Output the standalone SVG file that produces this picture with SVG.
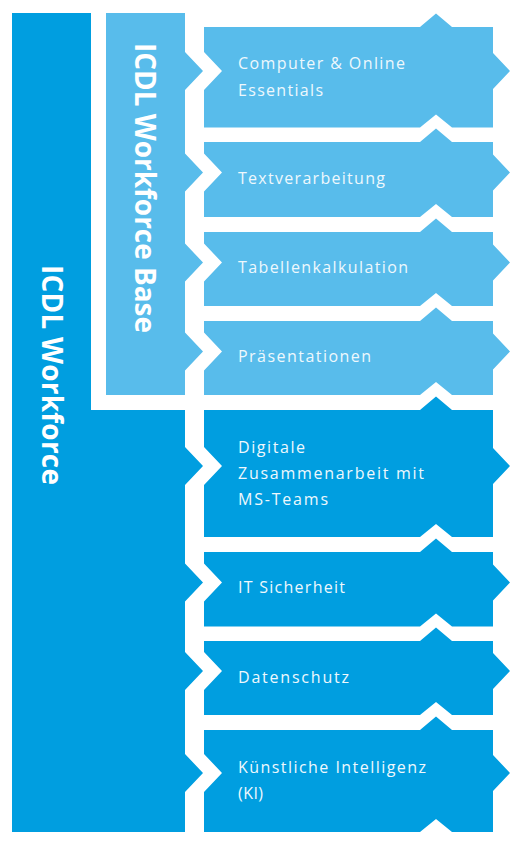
<svg xmlns="http://www.w3.org/2000/svg" width="517" height="845" viewBox="0 0 517 845">
  <style>
    .light { fill: #58bceb; }
    .dark { fill: #009ee0; }
    .lbl { font-family: "Open Sans", "Liberation Sans", sans-serif; font-size: 16px; fill: #eef8fd; }
    .title { font-family: "Open Sans", "Liberation Sans", sans-serif; font-size: 28px; font-weight: bold; fill: #ffffff; }
  </style>
  <rect width="517" height="845" fill="#ffffff"/>
  <g id="workforce">
    <path class="dark" d="M12,13 H91 V410 H185 V447 L203,466 L185,485 V563.5 L203,582.5 L185,601.5 V652 L203,671 L185,690 V754 L203,773 L185,792 V832 H12 Z"/>
    <text class="title" transform="translate(41.5,265) rotate(90)" textLength="220" lengthAdjust="spacing">ICDL Workforce</text>
  </g>
  <g id="workforce-base">
    <path class="light" d="M106,13 H185 V52 L203,71 L185,90 V153.5 L203,172.5 L185,191.5 V243.5 L203,262.5 L185,281.5 V332.5 L203,351.5 L185,370.5 V395 H106 Z"/>
    <text class="title" transform="translate(135,43) rotate(90)" textLength="290" lengthAdjust="spacing">ICDL Workforce Base</text>
  </g>
  <g id="connectors"/>
  <g id="m1">
    <path class="light" d="M204,27 H420 L436,13.5 L452,27 H493 V53 L510,71 L493,89 V127.5 H452 L436,114.5 L420,127.5 H204 V90 L222,71 L204,52 Z"/>
    <text class="lbl" x="238" y="68.5" textLength="167" lengthAdjust="spacing">Computer &amp; Online</text>
    <text class="lbl" x="238" y="95.5" textLength="85" lengthAdjust="spacing">Essentials</text>
  </g>
  <g id="m2">
    <path class="light" d="M204,142 H420 L436,128.5 L452,142 H493 V154.5 L510,172.5 L493,190.5 V217 H452 L436,204 L420,217 H204 V191.5 L222,172.5 L204,153.5 Z"/>
    <text class="lbl" x="238" y="183.5" textLength="147" lengthAdjust="spacing">Textverarbeitung</text>
  </g>
  <g id="m3">
    <path class="light" d="M204,232 H420 L436,218.5 L452,232 H493 V244.5 L510,262.5 L493,280.5 V306 H452 L436,293 L420,306 H204 V281.5 L222,262.5 L204,243.5 Z"/>
    <text class="lbl" x="238" y="273" textLength="170" lengthAdjust="spacing">Tabellenkalkulation</text>
  </g>
  <g id="m4">
    <path class="light" d="M204,321 H420 L436,307.5 L452,321 H493 V333.5 L510,351.5 L493,369.5 V395 H452 L436,382 L420,395 H204 V370.5 L222,351.5 L204,332.5 Z"/>
    <text class="lbl" x="238" y="362" textLength="133" lengthAdjust="spacing">Präsentationen</text>
  </g>
  <g id="m5">
    <path class="dark" d="M204,410 H420 L436,396.5 L452,410 H493 V448 L510,466 L493,484 V537 H452 L436,524 L420,537 H204 V485 L222,466 L204,447 Z"/>
    <text class="lbl" x="238" y="452.5" textLength="67" lengthAdjust="spacing">Digitale</text>
    <text class="lbl" x="238" y="478.5" textLength="186" lengthAdjust="spacing">Zusammenarbeit mit</text>
    <text class="lbl" x="238" y="504.5" textLength="90" lengthAdjust="spacing">MS-Teams</text>
  </g>
  <g id="m6">
    <path class="dark" d="M204,552 H420 L436,538.5 L452,552 H493 V564.5 L510,582.5 L493,600.5 V626.5 H452 L436,613.5 L420,626.5 H204 V601.5 L222,582.5 L204,563.5 Z"/>
    <text class="lbl" x="238" y="593" textLength="107" lengthAdjust="spacing">IT Sicherheit</text>
  </g>
  <g id="m7">
    <path class="dark" d="M204,641 H420 L436,627.5 L452,641 H493 V653 L510,671 L493,689 V715 H452 L436,702 L420,715 H204 V690 L222,671 L204,652 Z"/>
    <text class="lbl" x="238" y="683" textLength="111" lengthAdjust="spacing">Datenschutz</text>
  </g>
  <g id="m8">
    <path class="dark" d="M204,730 H420 L436,716.5 L452,730 H493 V755 L510,773 L493,791 V832 H452 L436,819 L420,832 H204 V792 L222,773 L204,754 Z"/>
    <text class="lbl" x="238" y="772.5" textLength="188" lengthAdjust="spacing">Künstliche Intelligenz</text>
    <text class="lbl" x="238" y="798.5" textLength="25" lengthAdjust="spacing">(KI)</text>
  </g>
</svg>
